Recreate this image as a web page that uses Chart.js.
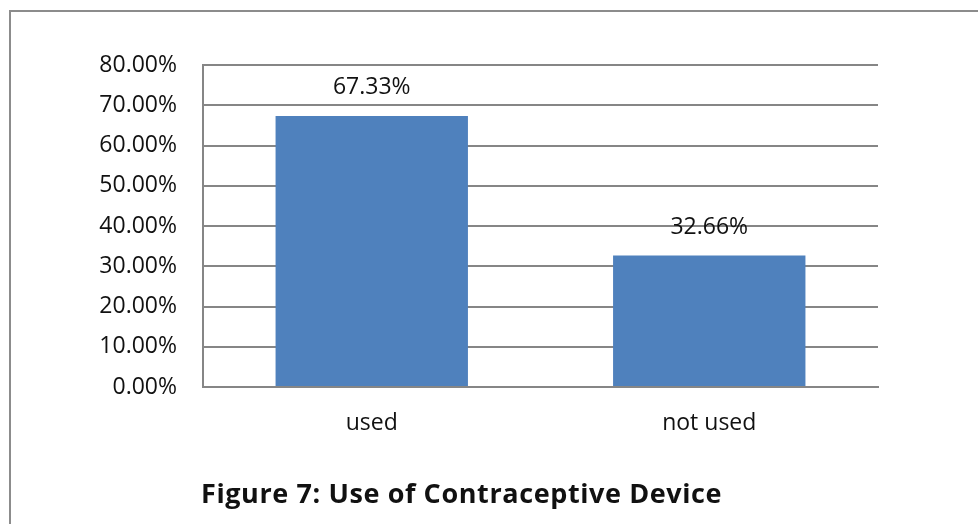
<!DOCTYPE html>
<html lang="en">
<head>
  <meta charset="UTF-8" />
  <title>Use of Contraceptive Device</title>
  <script src="https://cdn.jsdelivr.net/npm/chart.js"></script>
  <style>
    body {
      margin: 0;
      background-color: white;
      font-family: "Open Sans", sans-serif;
    }
    .wrap {
      position: relative;
      width: 978px;
      height: 524px;
      overflow: hidden;
    }
    .frame {
      position: absolute;
      left: 9px;
      top: 10px;
      width: 1000px;
      height: 600px;
      border: 2px solid #8c8c8c;
    }
    canvas {
      position: absolute;
      left: 0;
      top: 0;
    }
    .caption {
      position: absolute;
      left: 201px;
      top: 474px;
      font-size: 27px;
      letter-spacing: 0.6px;
      font-weight: bold;
      color: #111;
      white-space: nowrap;
    }
  </style>
</head>
<body>
  <div class="wrap">
    <div class="frame"></div>
    <canvas id="useChart" width="978" height="524"></canvas>
    <div class="caption">Figure 7: Use of Contraceptive Device</div>
  </div>

  <script>
    const categories = ["used", "not used"];
    const usage = [67.33, 32.66];
    const yTicks = [0, 10, 20, 30, 40, 50, 60, 70, 80];

    // value labels above each bar
    const barLabels = {
      id: "barLabels",
      afterDatasetsDraw(chart) {
        const ctx = chart.ctx;
        const meta = chart.getDatasetMeta(0);
        ctx.save();
        ctx.font = "23px 'Open Sans'";
        ctx.fillStyle = "#111";
        ctx.textAlign = "center";
        ctx.textBaseline = "alphabetic";
        meta.data.forEach((bar, i) => {
          ctx.fillText(usage[i].toFixed(2) + "%", bar.x, bar.y - 22);
        });
        ctx.restore();
      },
    };

    new Chart(document.getElementById("useChart"), {
      type: "bar",
      data: {
        labels: categories,
        datasets: [
          {
            data: usage,
            backgroundColor: "#4f81bd",
            barPercentage: 0.57,
            categoryPercentage: 1,
          },
        ],
      },
      options: {
        responsive: false,
        animation: false,
        layout: { padding: { left: 83, top: 65, right: 100, bottom: 0 } },
        plugins: {
          legend: { display: false },
          tooltip: { enabled: false },
        },
        scales: {
          x: {
            grid: { display: false, drawTicks: false },
            border: { color: "#868686", width: 2 },
            ticks: {
              color: "#111",
              font: { family: "Open Sans", size: 23 },
              padding: 23,
            },
            afterFit(scale) {
              scale.height = 137;
            },
          },
          y: {
            min: 0,
            max: 80,
            afterBuildTicks(scale) {
              scale.ticks = yTicks.map((v) => ({ value: v }));
            },
            grid: { color: "#868686", lineWidth: 2, drawTicks: false },
            border: { color: "#868686", width: 2 },
            ticks: {
              color: "#111",
              font: { family: "Open Sans", size: 23 },
              padding: 26,
              callback: (v) => v.toFixed(2) + "%",
            },
            afterFit(scale) {
              scale.width = 120;
            },
          },
        },
      },
      plugins: [barLabels],
    });
  </script>
</body>
</html>
